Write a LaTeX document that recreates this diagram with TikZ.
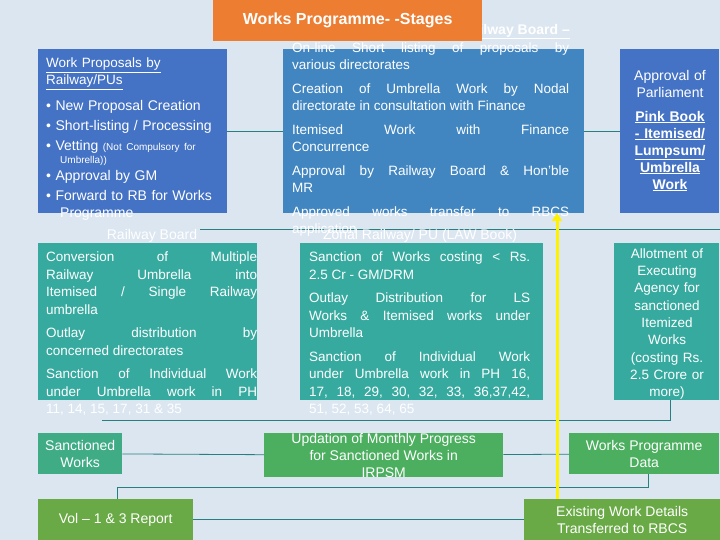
\documentclass[tikz,border=0pt]{standalone}
\usepackage{fontspec}
\setmainfont{Liberation Sans}
\usetikzlibrary{arrows.meta}
\begin{document}
\begin{tikzpicture}[x=1pt,y=-1pt,
  box/.style={draw=none,inner sep=0},
  txt/.style={anchor=north west,inner sep=0,text=white,align=justify,font=\fontsize{13.5}{17}\selectfont},
  ctxt/.style={inner sep=0,text=white,align=center,font=\fontsize{14}{17}\selectfont},
  ln/.style={draw=teal!70!gray,line width=0.8pt}]
\useasboundingbox (0,0) rectangle (720,540);
\fill[fill={rgb,255:red,220;green,230;blue,241}] (0,0) rectangle (720,540);
\definecolor{bA}{RGB}{68,114,196}
\definecolor{bB}{RGB}{65,134,193}
\definecolor{tl}{RGB}{55,170,160}
\definecolor{gr}{RGB}{75,175,95}
\definecolor{gr2}{RGB}{105,170,70}
\coordinate (l1a) at (200,229); \coordinate (l1b) at (720,229);
\draw[ln] (l1a) -- (l1b);
\fill[bA] (38,49) rectangle (227,213) node[box] (A) {};
\fill[bB] (283,49) rectangle (584,213) node[box] (B) {};
\fill[bA] (620,49) rectangle (719,213) node[box] (C) {};
\coordinate (ab1) at (227,131); \coordinate (ab2) at (283,131);
\coordinate (bc1) at (584,131); \coordinate (bc2) at (620,131);
\draw[ln] (ab1) -- (ab2); \draw[ln] (bc1) -- (bc2);
\node[txt,text width=190,align=left] (tA) at (46,58) {\underline{Work Proposals by}\\\underline{Railway/PUs}};
\node[txt,text width=200,align=left] (tA2) at (46,100) {\fontsize{14}{20}\selectfont
• New Proposal Creation\\• Short-listing / Processing\\• Vetting {\fontsize{10}{11}\selectfont (Not Compulsory for}\\[-7pt]\hspace*{14pt}{\fontsize{10}{11}\selectfont Umbrella))}\\[-3pt]• Approval by GM\\• Forward to RB for Works\\\hspace*{14pt}Programme};
\node[ctxt] (rb) at (152,236) {Railway Board};
\node[txt,text width=277] (tB2) at (292,43) {On-line Short listing of proposals by\linebreak various directorates\\[7pt]
Creation of Umbrella Work by Nodal\linebreak directorate in consultation with Finance\\[7pt]
Itemised Work with Finance\linebreak Concurrence\\[7pt]
Approval by Railway Board \& Hon’ble\linebreak MR\\[7pt]
Approved works transfer to RBCS\linebreak application};
\node[ctxt] (zr) at (420,236) {Zonal Railway/ PU (LAW Book)};
\node[txt,anchor=north east,font=\fontsize{14}{17}\selectfont\bfseries] (tB) at (570,24) {\underline{Railway Board –}};
\node[ctxt,text width=95] (tC) at (670,84) {Approval of Parliament};
\node[ctxt,text width=95,font=\fontsize{14}{17}\selectfont\bfseries] (tC2) at (670,151) {\underline{Pink Book}\\\underline{- Itemised/}\\\underline{Lumpsum/}\\\underline{Umbrella}\\\underline{Work}};
\fill[tl] (38,243) rectangle (257,400) node[box] (D) {};
\fill[tl] (300,243) rectangle (543,400) node[box] (E) {};
\fill[tl] (614,243) rectangle (719,400) node[box] (F) {};
\node[txt,text width=211,font=\fontsize{13.5}{17.5}\selectfont] (tD) at (46,252) {Conversion of Multiple\linebreak Railway Umbrella into\linebreak Itemised / Single Railway\linebreak umbrella\\[6pt]
Outlay distribution by\linebreak concerned directorates\\[6pt]
Sanction of Individual Work\linebreak under Umbrella work in PH\linebreak 11, 14, 15, 17, 31 \& 35};
\node[txt,text width=221,font=\fontsize{13.5}{17.5}\selectfont] (tE) at (309,252) {Sanction of Works costing < Rs.\linebreak 2.5 Cr - GM/DRM\\[6pt]
Outlay Distribution for LS\linebreak Works \& Itemised works under\linebreak Umbrella\\[6pt]
Sanction of Individual Work\linebreak under Umbrella work in PH 16,\linebreak 17, 18, 29, 30, 32, 33, 36,37,42,\linebreak 51, 52, 53, 64, 65};
\node[ctxt,text width=104,font=\fontsize{13.5}{17.3}\selectfont] (tF) at (667,324) {Allotment of\\Executing\\Agency for\\sanctioned\\Itemized\\Works\\(costing Rs.\\2.5 Crore or\\more)};
\coordinate (r3a) at (102,420); \coordinate (r3b) at (670,420);
\draw[ln] (r3a) |- (r3b) -- (670,400);
\node[box,fill=tl!60!gr,minimum width=84,minimum height=41,anchor=north west,ctxt] (G) at (38,433) {Sanctioned\\Works};
\node[box,fill=gr,minimum width=239,minimum height=41,anchor=north west,ctxt] (H) at (264,433) {Updation of Monthly Progress\\for Sanctioned Works in\\IRPSM};
\node[box,fill=gr,minimum width=150,minimum height=41,anchor=north west,ctxt] (I) at (569,433) {Works Programme\\Data};
\draw[ln] (G) -- (H); \draw[ln] (H) -- (I);
\coordinate (r4b) at (648,487);
\draw[ln] (117,499) |- (r4b) -- (I.south -| r4b);
\node[box,fill=gr2,minimum width=155,minimum height=41,anchor=north west,ctxt] (J) at (38,499) {Vol – 1 \& 3 Report};
\node[box,fill=gr2,minimum width=196,minimum height=41,anchor=north west,ctxt] (K) at (524,499) {Existing Work Details\\Transferred to RBCS};
\draw[ln] (J) -- (K);
\node[box,fill={rgb,255:red,237;green,125;blue,49},minimum width=269,minimum height=41,anchor=north west,text=white,font=\fontsize{16}{19}\selectfont\bfseries] (T) at (213,0) {Works Programme- -Stages};
\coordinate (ya) at (557,499); \coordinate (yb) at (557,213);
\draw[yellow,line width=3pt,-{Triangle[length=8pt,width=10pt]}] (ya) -- (yb);
\end{tikzpicture}
\end{document}
